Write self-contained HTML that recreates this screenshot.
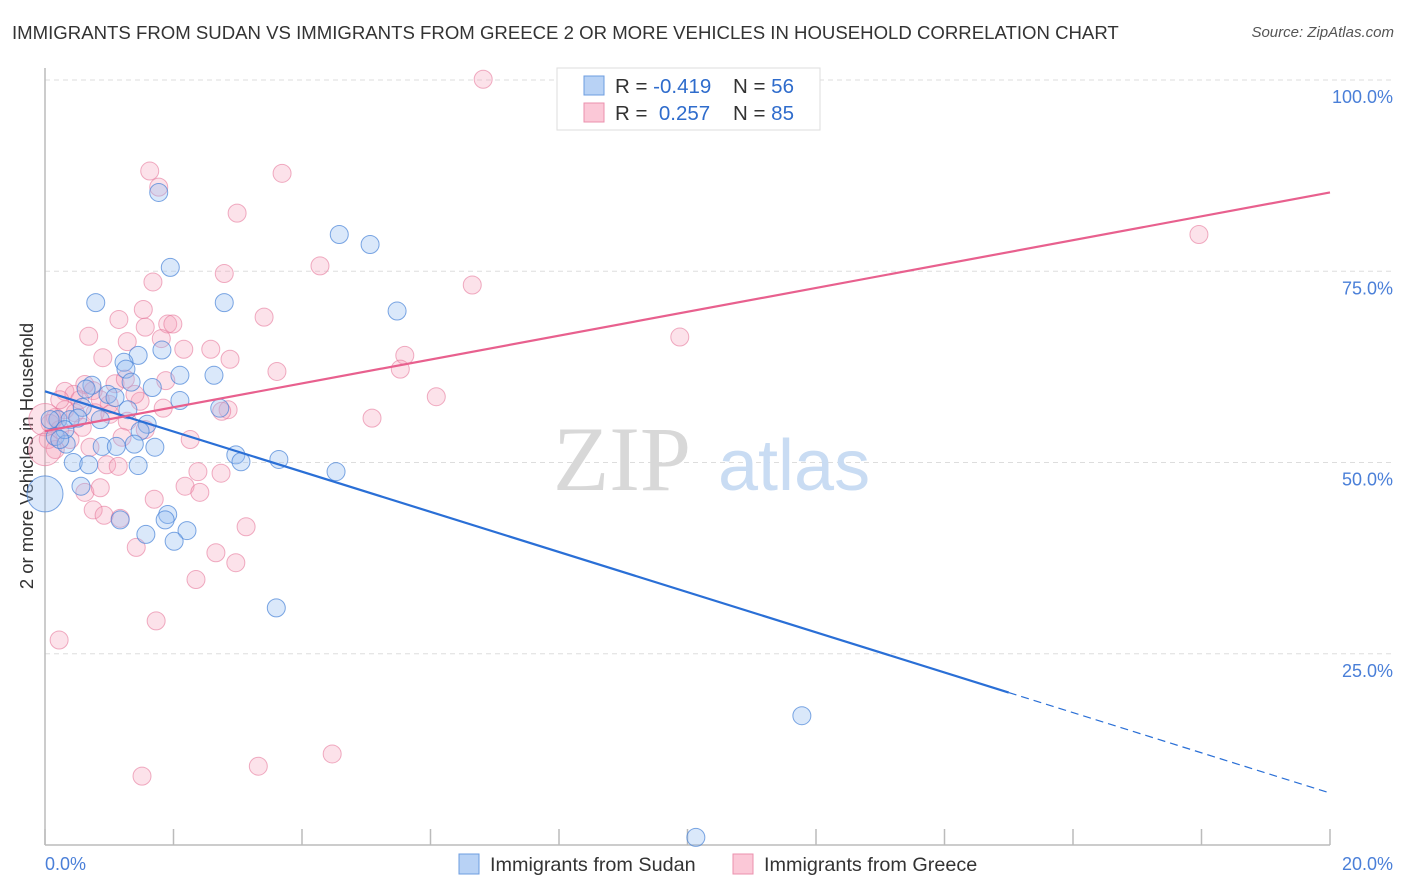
<!DOCTYPE html>
<html><head><meta charset="utf-8">
<style>
body{margin:0;background:#fff;font-family:"Liberation Sans",sans-serif;}
#wrap{position:relative;width:1406px;height:892px;overflow:hidden;}
.title{position:absolute;left:12px;top:22px;font-size:18.6px;color:#333;letter-spacing:0px;white-space:nowrap;}
.source{position:absolute;right:12px;top:24px;font-size:15px;color:#555;font-style:italic;}
</style></head>
<body>
<div id="wrap">
<div class="title">IMMIGRANTS FROM SUDAN VS IMMIGRANTS FROM GREECE 2 OR MORE VEHICLES IN HOUSEHOLD CORRELATION CHART</div>
<div class="source">Source: ZipAtlas.com</div>
<svg id="chart" width="1406" height="892" style="position:absolute;left:0;top:0"></svg>
</div>
<script>
const blueX=[1.77,4.58,5.06,1.95,0.79,2.79,5.48,1.45,1.82,1.23,1.26,2.10,2.63,0.73,1.34,1.67,0.64,0.98,1.09,2.10,2.72,1.29,0.58,0.20,0.39,1.59,1.48,0.16,0.33,0.89,1.11,1.39,1.71,2.97,3.05,3.64,4.53,0.44,0.68,1.45,0.56,0,1.17,1.91,1.87,1.57,2.21,2.01,3.60,11.78,10.13,0.08,0.31,0.51,0.23,0.86];
const blueY=[85.3,79.8,78.5,75.5,70.9,70.9,69.8,64.0,64.7,63.1,62.2,61.4,61.4,60.1,60.5,59.8,59.6,58.9,58.5,58.1,57.1,56.9,57.2,55.6,55.6,55.0,54.1,53.4,52.4,52.1,52.1,52.4,52.0,51.0,50.1,50.4,48.8,50.0,49.7,49.6,46.9,45.9,42.5,43.2,42.5,40.6,41.1,39.7,31.0,16.9,1.0,55.6,54.3,55.8,53.0,55.6];
const blueW=[1,1,1,1,1,1,1,1,1,1,1,1,1,1,1,1,1,1,1,1,1,1,1,1,1,1,1,1,1,1,1,1,1,1,1,1,1,1,1,1,1,2,1,1,1,1,1,1,1,1,1,1,1,1,1,1];
const pinkX=[6.82,1.63,1.77,3.69,2.99,4.28,2.79,6.65,1.68,1.53,1.15,3.41,1.91,1.99,1.56,0.68,1.81,1.28,2.16,2.58,9.88,0.90,5.60,5.53,3.61,1.88,0.62,1.09,0.31,0.75,0.45,6.09,1.48,1.00,1.84,2.85,2.75,0.31,0.47,0.78,0.16,5.09,0.08,0.23,0.58,1.28,1.01,0.05,0.70,1.20,0.16,0.96,1.14,2.38,2.74,2.18,2.41,0.62,0.86,1.70,0.75,0.92,1.17,3.13,1.42,2.66,2.97,2.35,1.73,0.22,1.51,3.32,4.47,17.96,0,0,0.39,1.25,1.40,0.86,0.23,0.54,1.56,2.26,2.88];
const pinkY=[100.1,88.1,86.0,87.8,82.6,75.7,74.7,73.2,73.6,70.0,68.7,69.0,68.1,68.1,67.7,66.5,66.2,65.8,64.8,64.8,66.4,63.7,64.0,62.2,61.9,60.7,60.2,60.3,59.3,59.4,58.9,58.6,58.0,57.6,57.1,56.9,56.7,56.9,56.5,56.5,55.9,55.8,55.1,54.3,54.6,55.4,56.3,53.0,52.0,53.3,51.7,49.7,49.5,48.8,48.6,46.9,46.1,46.1,46.7,45.2,43.8,43.1,42.7,41.6,38.9,38.2,36.9,34.7,29.3,26.8,9.0,10.3,11.9,79.8,55.6,51.7,53.0,60.9,58.9,58.2,58.2,58.2,54.3,53.0,63.5];
const pinkW=pinkX.map((_,i)=>(i===74||i===75)?1.8:1);
const xTicks=[0,20];
const yTicks=[25,50,75,100];
const yTickLabels=["25.0%","50.0%","75.0%","100.0%"];
const blueLine=[59.3,-2.625];
const pinkLine=[54.1,1.56];
const blueSolidEnd=15.0;

const NS="http://www.w3.org/2000/svg";
const svg=document.getElementById('chart');
const X0=45,X1=1330,Y0=845,Y100=80;
const sx=v=>X0+(v/20)*(X1-X0);
const sy=v=>Y0-(v/100)*(Y0-Y100);
function el(t,a,p){const e=document.createElementNS(NS,t);for(const k in a)e.setAttribute(k,a[k]);(p||svg).appendChild(e);return e;}

yTicks.forEach((t,i)=>{
  const g=el('line',{x1:X0,x2:1395,y1:sy(t),y2:sy(t),stroke:'#ddd','stroke-dasharray':'5,4','stroke-width':1});
  
  
  const tx=el('text',{x:1393,y:sy(t)+23,'text-anchor':'end','font-size':18,fill:'#4a7fd8','font-family':'Liberation Sans, sans-serif'});
  tx.textContent=yTickLabels[i];
  
  
});
const ya=el('line',{x1:X0,x2:X0,y1:68,y2:Y0,stroke:'#bbb','stroke-width':1.5});


const xa=el('line',{x1:X0,x2:X1,y1:Y0,y2:Y0,stroke:'#bbb','stroke-width':1.5});


for(let i=0;i<=10;i++){
  const t=el('line',{x1:sx(i*2),x2:sx(i*2),y1:829,y2:Y0,stroke:'#bbb','stroke-width':1.5});
  
  
}
xTicks.forEach((t,i)=>{
  const tx=el('text',{x:i===0?45:1393,y:870,'text-anchor':i===0?'start':'end','font-size':18,fill:'#4a7fd8','font-family':'Liberation Sans, sans-serif'});
  tx.textContent=t.toFixed(1)+'%';
  
  
});
const yt=el('text',{x:0,y:0,transform:'translate(33,456) rotate(-90)','text-anchor':'middle','font-size':18.5,fill:'#333','font-family':'Liberation Sans, sans-serif'});
yt.textContent='2 or more Vehicles in Household';


const wm=el('text',{x:553,y:490,'font-size':92,fill:'#d8d8d8','font-family':'Liberation Serif, serif'});
wm.textContent='ZIP';


const wm2=el('text',{x:718,y:490,'font-size':72,fill:'#c9dcf3','font-family':'Liberation Sans, sans-serif'});
wm2.textContent='atlas';



pinkX.forEach((x,i)=>{
  const c=el('circle',{cx:sx(x),cy:sy(pinkY[i]),r:9*pinkW[i],fill:'rgba(244,160,185,0.3)',stroke:'rgba(230,120,155,0.6)','stroke-width':1});
  
  
});
blueX.forEach((x,i)=>{
  const c=el('circle',{cx:sx(x),cy:sy(blueY[i]),r:9*blueW[i],fill:'rgba(150,190,240,0.35)',stroke:'rgba(70,130,215,0.7)','stroke-width':1});
  
  
});
const bl=el('line',{x1:sx(0),y1:sy(blueLine[0]),x2:sx(blueSolidEnd),y2:sy(blueLine[0]+blueLine[1]*blueSolidEnd),stroke:'#2a6fd6','stroke-width':2.2});


const bd=el('line',{x1:sx(blueSolidEnd),y1:sy(blueLine[0]+blueLine[1]*blueSolidEnd),x2:sx(20),y2:sy(blueLine[0]+blueLine[1]*20),stroke:'#2a6fd6','stroke-width':1.2,'stroke-dasharray':'8,5'});


const pl=el('line',{x1:sx(0),y1:sy(pinkLine[0]),x2:sx(20),y2:sy(pinkLine[0]+pinkLine[1]*20),stroke:'#e8608e','stroke-width':2.2});



const lg=el('g',{});


el('rect',{x:557,y:68,width:263,height:62,fill:'#fff',stroke:'#ddd','stroke-width':1},lg);
el('rect',{x:584,y:76,width:20,height:19,fill:'#b8d2f5',stroke:'#6d9de0'},lg);
el('rect',{x:584,y:103,width:20,height:19,fill:'#fbc8d7',stroke:'#eb90ae'},lg);
const rows=[["-0.419","56",93],[" 0.257","85",120]];
rows.forEach(r=>{
  const t=el('text',{x:615,y:r[2],'font-size':20.5,fill:'#333','font-family':'Liberation Sans, sans-serif'},lg);
  t.innerHTML='R = <tspan fill="#2f6ccc">'+(r[0][0]===' '?'&#160;'+r[0].slice(1):r[0])+'</tspan>';
  const n=el('text',{x:733,y:r[2],'font-size':20.5,fill:'#333','font-family':'Liberation Sans, sans-serif'},lg);
  n.innerHTML='N = <tspan fill="#2f6ccc">'+r[1]+'</tspan>';
});
const bl2=el('g',{});


el('rect',{x:459,y:854,width:20,height:20,fill:'#b8d2f5',stroke:'#6d9de0'},bl2);
const t1=el('text',{x:490,y:871,'font-size':19.8,fill:'#333','font-family':'Liberation Sans, sans-serif'},bl2);
t1.textContent='Immigrants from Sudan';
el('rect',{x:733,y:854,width:20,height:20,fill:'#fbc8d7',stroke:'#eb90ae'},bl2);
const t2=el('text',{x:764,y:871,'font-size':19.8,fill:'#333','font-family':'Liberation Sans, sans-serif'},bl2);
t2.textContent='Immigrants from Greece';
</script>
</body></html>
